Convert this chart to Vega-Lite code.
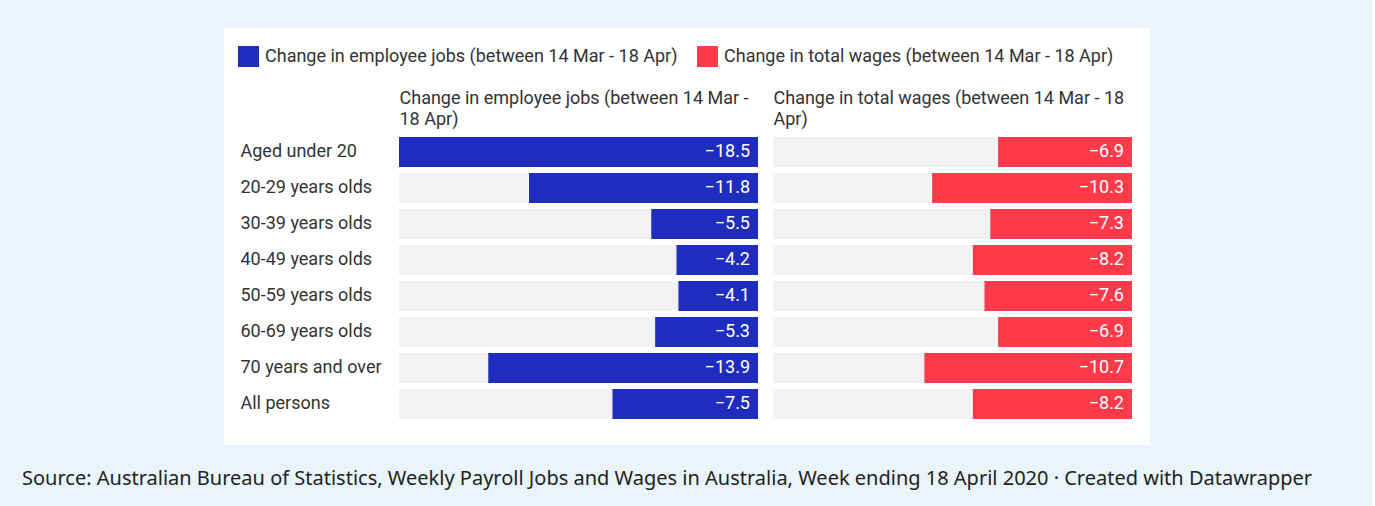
{
  "$schema": "https://vega.github.io/schema/vega-lite/v6.json",
  "background": "#eaf4fc",
  "padding": {"left": 22, "top": 28, "right": 59, "bottom": 20},
  "bounds": "flush",
  "spacing": 0,
  "config": {"view": {"stroke": null, "fill": "white"}, "font": "Roboto"},
  "title": {
    "text": "Source: Australian Bureau of Statistics, Weekly Payroll Jobs and Wages in Australia, Week ending 18 April 2020 · Created with Datawrapper",
    "orient": "bottom",
    "anchor": "start",
    "dx": -202,
    "offset": 24,
    "font": "Noto Sans",
    "fontSize": 20,
    "fontWeight": "normal",
    "color": "#222222"
  },
  "resolve": {"scale": {"color": "independent"}, "legend": {"color": "independent"}},
  "datasets": {
    "rows": [
      {"group": "Aged under 20", "jobs": -18.5, "wages": -6.9},
      {"group": "20-29 years olds", "jobs": -11.8, "wages": -10.3},
      {"group": "30-39 years olds", "jobs": -5.5, "wages": -7.3},
      {"group": "40-49 years olds", "jobs": -4.2, "wages": -8.2},
      {"group": "50-59 years olds", "jobs": -4.1, "wages": -7.6},
      {"group": "60-69 years olds", "jobs": -5.3, "wages": -6.9},
      {"group": "70 years and over", "jobs": -13.9, "wages": -10.7},
      {"group": "All persons", "jobs": -7.5, "wages": -8.2}
    ],
    "measures": [
      {"m": "Change in employee jobs (between 14 Mar - 18 Apr)"},
      {"m": "Change in total wages (between 14 Mar - 18 Apr)"}
    ]
  },
  "vconcat": [
    {
      "width": 926,
      "height": 47,
      "view": {"fill": "white", "stroke": null},
      "data": {"name": "measures"},
      "mark": {"type": "square", "opacity": 0},
      "encoding": {
        "color": {
          "field": "m",
          "type": "nominal",
          "sort": null,
          "scale": {
            "domain": ["Change in employee jobs (between 14 Mar - 18 Apr)", "Change in total wages (between 14 Mar - 18 Apr)"],
            "range": ["#1f2dbe", "#ff3b4b"]
          },
          "legend": {
            "orient": "none",
            "legendX": 14,
            "legendY": 18,
            "direction": "horizontal",
            "title": null,
            "symbolType": "square",
            "symbolSize": 441,
            "symbolOpacity": 1,
            "symbolStrokeWidth": 0,
            "labelFontSize": 18,
            "labelFont": "Roboto",
            "labelColor": "#333333",
            "labelLimit": 0,
            "columnPadding": 19,
            "labelOffset": 6
          }
        }
      }
    },
    {
      "spacing": 0,
      "hconcat": [
        {
          "width": 549,
          "height": 370,
          "data": {"name": "rows"},
          "encoding": {
            "y": {
              "field": "group",
              "type": "nominal",
              "sort": null,
              "scale": {"range": [59, 347], "paddingInner": 0.1667, "paddingOuter": 0.0833},
              "axis": {
                "orient": "left",
                "title": null,
                "labelAlign": "left",
                "labelPadding": -16,
                "tickSize": 0,
                "ticks": false,
                "domain": false,
                "grid": false,
                "labelFont": "Roboto",
                "labelFontSize": 18,
                "labelColor": "#333333",
                "labelLimit": 0
              }
            }
          },
          "layer": [
            {
              "mark": {"type": "bar", "color": "#f2f2f2"},
              "encoding": {
                "x": {
                  "datum": -18.5,
                  "type": "quantitative",
                  "scale": {"domain": [-18.5, 0], "range": [175, 534], "nice": false},
                  "axis": {
                    "orient": "top",
                    "offset": -53,
                    "title": ["Change in employee jobs (between 14 Mar -", "18 Apr)"],
                    "titleAnchor": "start",
                    "titleAlign": "left",
                    "titlePadding": 0,
                    "titleFont": "Roboto",
                    "titleFontSize": 18,
                    "titleFontWeight": "normal",
                    "titleColor": "#333333",
                    "titleLineHeight": 21,
                    "labels": false,
                    "ticks": false,
                    "domain": false,
                    "grid": false
                  }
                },
                "x2": {"datum": 0}
              }
            },
            {
              "mark": {"type": "bar", "color": "#1f2dbe"},
              "encoding": {"x": {"field": "jobs", "type": "quantitative"}}
            },
            {
              "mark": {"type": "text", "align": "right", "dx": -8, "color": "white", "fontSize": 18, "font": "Roboto"},
              "encoding": {
                "x": {"datum": 0, "type": "quantitative"},
                "text": {"field": "jobs", "type": "quantitative", "format": ".1f"}
              }
            }
          ]
        },
        {
          "width": 377,
          "height": 370,
          "data": {"name": "rows"},
          "encoding": {
            "y": {
              "field": "group",
              "type": "nominal",
              "sort": null,
              "scale": {"range": [59, 347], "paddingInner": 0.1667, "paddingOuter": 0.0833},
              "axis": null
            }
          },
          "layer": [
            {
              "mark": {"type": "bar", "color": "#f2f2f2"},
              "encoding": {
                "x": {
                  "datum": -18.5,
                  "type": "quantitative",
                  "scale": {"domain": [-18.5, 0], "range": [0, 359], "nice": false},
                  "axis": {
                    "orient": "top",
                    "offset": -53,
                    "title": ["Change in total wages (between 14 Mar - 18", "Apr)"],
                    "titleAnchor": "start",
                    "titleAlign": "left",
                    "titlePadding": 0,
                    "titleFont": "Roboto",
                    "titleFontSize": 18,
                    "titleFontWeight": "normal",
                    "titleColor": "#333333",
                    "titleLineHeight": 21,
                    "labels": false,
                    "ticks": false,
                    "domain": false,
                    "grid": false
                  }
                },
                "x2": {"datum": 0}
              }
            },
            {
              "mark": {"type": "bar", "color": "#ff3b4b"},
              "encoding": {"x": {"field": "wages", "type": "quantitative"}}
            },
            {
              "mark": {"type": "text", "align": "right", "dx": -8, "color": "white", "fontSize": 18, "font": "Roboto"},
              "encoding": {
                "x": {"datum": 0, "type": "quantitative"},
                "text": {"field": "wages", "type": "quantitative", "format": ".1f"}
              }
            }
          ]
        }
      ]
    }
  ]
}
